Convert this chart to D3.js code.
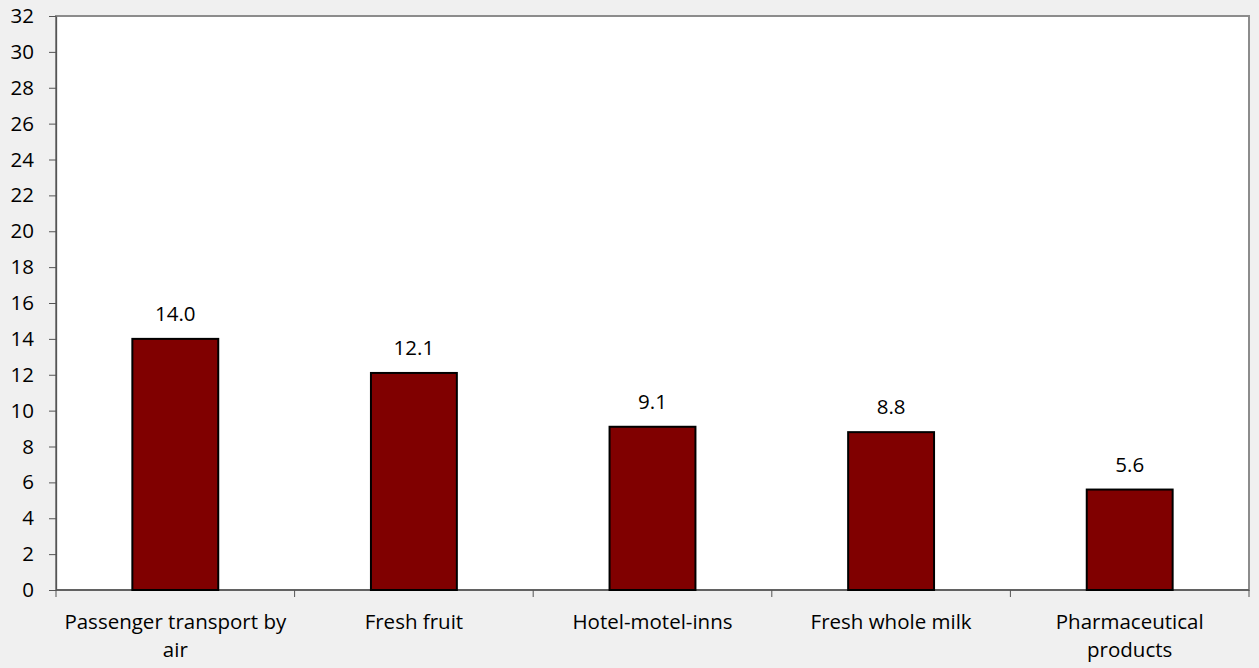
<!DOCTYPE html>
<html><head><meta charset="utf-8">
<script src="https://cdn.jsdelivr.net/npm/d3@7"></script>
<style>
html,body{margin:0;padding:0;background:#f0f0f0;}
svg{display:block;}
text{font-family:"Open Sans",Lato,sans-serif;fill:#000;}
</style></head>
<body><svg id="c" width="1259" height="668"></svg>
<script>
const categories = ["Passenger transport by air","Fresh fruit","Hotel-motel-inns","Fresh whole milk","Pharmaceutical products"];
const labelLines = [["Passenger transport by","air"],["Fresh fruit"],["Hotel-motel-inns"],["Fresh whole milk"],["Pharmaceutical","products"]];
const values = [14.0, 12.1, 9.1, 8.8, 5.6];
const yTicks = d3.range(0, 33, 2);

const FS = "20.5px";
const svg = d3.select("#c");
const m = {l:56, r:1249, t:16, b:590};
const x = d3.scaleBand().domain(categories).range([m.l, m.r]).paddingInner(0.64).paddingOuter(0.32);
const y = d3.scaleLinear().domain([0,32]).range([m.b, m.t]);

svg.append("rect").attr("x",m.l).attr("y",m.t).attr("width",m.r-m.l).attr("height",m.b-m.t)
  .attr("fill","#fff").attr("stroke","#8c8c8c").attr("stroke-width",2);

// y axis
const ya = svg.append("g").attr("transform",`translate(${m.l},0)`)
  .call(d3.axisLeft(y).tickValues(yTicks).tickSize(7).tickPadding(15).tickSizeOuter(0));
ya.select(".domain").attr("stroke","#555").attr("stroke-width",1.3);
ya.selectAll(".tick line").attr("stroke","#555");
ya.selectAll("text").style("font-size",FS).style("font-family","'Open Sans', Lato, sans-serif").attr("fill","#000");

// x axis line and ticks at boundaries
const step = (m.r-m.l)/categories.length;
svg.append("line").attr("x1",m.l).attr("x2",m.r).attr("y1",m.b).attr("y2",m.b).attr("stroke","#555").attr("stroke-width",1.3);
for(let i=0;i<=categories.length;i++){
  svg.append("line").attr("x1",m.l+i*step).attr("x2",m.l+i*step).attr("y1",m.b).attr("y2",m.b+7).attr("stroke","#555");
}

// bars
svg.selectAll(".bar").data(values).enter().append("rect")
  .attr("x",(d,i)=>x(categories[i])).attr("width",x.bandwidth())
  .attr("y",d=>y(d)).attr("height",d=>y(0)-y(d))
  .attr("fill","#800000").attr("stroke","#000").attr("stroke-width",2);

// value labels
svg.selectAll(".vl").data(values).enter().append("text")
  .attr("x",(d,i)=>x(categories[i])+x.bandwidth()/2).attr("y",d=>y(d)-18)
  .attr("text-anchor","middle").style("font-size",FS).text(d=>d.toFixed(1));

// category labels
labelLines.forEach((lines,i)=>{
  const cx = x(categories[i])+x.bandwidth()/2;
  const t = svg.append("text").attr("text-anchor","middle").style("font-size",FS);
  lines.forEach((ln,j)=>t.append("tspan").attr("x",cx).attr("y",629+j*28).text(ln));
});
</script></body></html>
